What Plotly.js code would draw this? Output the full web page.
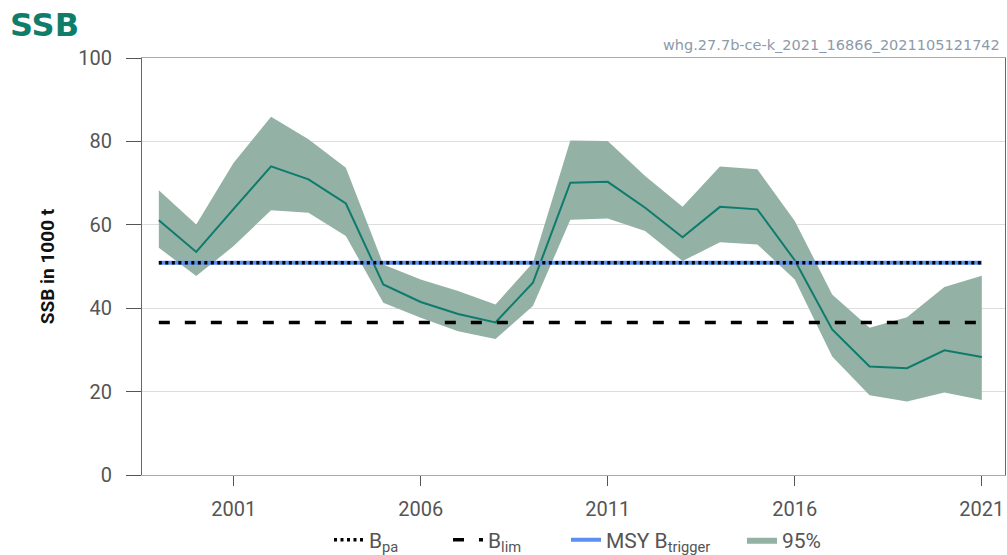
<!DOCTYPE html>
<html><head><meta charset="utf-8">
<script src="https://cdn.plot.ly/plotly-3.0.1.min.js"></script>
<style>html,body{margin:0;padding:0;background:#fff}#chart{width:1007px;height:555px}</style>
</head><body><div id="chart"></div>
<script>
const years = [1999,2000,2001,2002,2003,2004,2005,2006,2007,2008,2009,2010,2011,2012,2013,2014,2015,2016,2017,2018,2019,2020,2021];
const ssb   = [61.1,53.5,63.8,74.0,70.9,65.1,45.7,41.5,38.6,36.6,46.1,70.1,70.3,64.1,57.0,64.3,63.7,51.5,34.9,26.0,25.6,29.9,28.3];
const ssbHigh = [68.3,60.1,74.9,85.9,80.5,73.7,50.5,46.9,44.1,40.9,50.9,80.2,80.1,71.7,64.3,74.0,73.3,60.9,43.3,35.3,37.8,45.1,47.8];
const ssbLow  = [54.5,47.7,54.9,63.5,62.9,57.3,41.3,37.7,34.5,32.6,40.5,61.2,61.5,58.5,51.3,55.8,55.3,46.9,28.4,19.1,17.6,19.8,18.0];
const Bpa = 50.9;
const Blim = 36.6;
const MSYBtrigger = 50.9;
const refYears = [years[0], years[years.length-1]];
const tickYears = [2001,2006,2011,2016,2021];
const yTicks = [0,20,40,60,80,100];

const font = "Roboto, 'Open Sans', sans-serif";
// plot area in pixels: left 142, width 863, top 58, height 417
const px = v => (v - 142) / 863;
const py = v => (475 - v) / 417;
const legFont = {size:21, color:'#555', family:font};
function leg(xpix){ return {orientation:'h', xref:'container', yref:'container', x:xpix/1007, xanchor:'left', y:1 - 540/555, yanchor:'middle', font:legFont, bgcolor:'rgba(0,0,0,0)', borderwidth:0}; }

const traces = [
  {x: years, y: ssbLow, type:'scatter', mode:'lines', line:{width:0, color:'#93b1a5'}, showlegend:false, hoverinfo:'skip'},
  {x: years, y: ssbHigh, type:'scatter', mode:'lines', fill:'tonexty', fillcolor:'#93b1a5', line:{width:0, color:'#93b1a5'}, name:'95%', legend:'legend4'},
  {x: years, y: ssb, type:'scatter', mode:'lines', line:{width:2, color:'#0e7b6c'}, showlegend:false},
  {x: refYears, y: [MSYBtrigger, MSYBtrigger], type:'scatter', mode:'lines', line:{width:4, color:'#5b8ff0'}, name:'MSY B<sub>trigger</sub>', legend:'legend3'},
  {x: refYears, y: [Blim, Blim], type:'scatter', mode:'lines', line:{width:3.5, color:'#000', dash:'11px,15px'}, name:'B<sub>lim</sub>', legend:'legend2'},
  {x: refYears, y: [Bpa, Bpa], type:'scatter', mode:'lines', line:{width:3.5, color:'#000', dash:'3px,3.5px'}, name:'B<sub>pa</sub>', legend:'legend'}
];
const layout = {
  width:1007, height:555,
  margin:{l:142, r:2, t:58, b:80, autoexpand:false},
  paper_bgcolor:'#fff', plot_bgcolor:'#fff',
  font:{family:font, color:'#555', size:15},
  showlegend:true,
  legend:leg(329), legend2:leg(448), legend3:leg(566), legend4:leg(742),
  xaxis:{range:[1998.55, 2021.62], tickvals:tickYears, ticktext:tickYears.map(String), ticks:'outside', ticklen:10, tickcolor:'#555', ticklabelstandoff:6, showgrid:false, zeroline:false, showline:true, linecolor:'#aaa', mirror:true, tickfont:{size:20, color:'#555'}},
  yaxis:{range:[0,100], tickvals:yTicks, ticks:'outside', ticklen:15, tickcolor:'#555', ticklabelstandoff:10, showgrid:true, gridcolor:'#ddd', zeroline:false, showline:true, linecolor:'#666', mirror:true, tickfont:{size:20, color:'#555'},
         title:{text:'<b>SSB in 1000 t</b>', font:{size:19, color:'#111'}, standoff:18}},
  annotations:[
    {text:'<b>SSB</b>', xref:'paper', yref:'paper', x:px(8), y:py(4), xanchor:'left', yanchor:'top', showarrow:false, font:{size:32, color:'#0f7d6a', family:"'DejaVu Sans', sans-serif"}},
    {text:'whg.27.7b-ce-k_2021_16866_2021105121742', xref:'paper', yref:'paper', x:px(1002), y:py(45), xanchor:'right', yanchor:'middle', showarrow:false, font:{size:14.5, color:'#8c9aaa', family:"'DejaVu Sans', sans-serif"}}
  ]
};
Plotly.newPlot('chart', traces, layout, {displayModeBar:false, staticPlot:true});
</script></body></html>
